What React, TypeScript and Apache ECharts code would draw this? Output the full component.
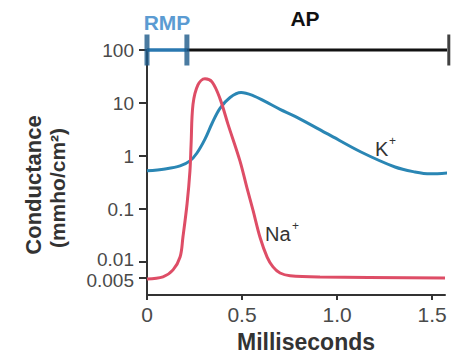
import React, { useEffect, useRef } from "react";
import * as echarts from "echarts";

// Time (ms) and conductance (mmho/cm²)
const kTime = [0, 0.095, 0.174, 0.226, 0.263, 0.305, 0.342, 0.384, 0.437, 0.495, 0.558, 0.621, 0.7, 0.779, 0.953, 1.126, 1.305, 1.41, 1.49, 1.584];
const kCond = [0.525, 0.57, 0.65, 0.81, 1.14, 2.08, 4.1, 7.9, 12.7, 15.7, 13.8, 10.7, 7.6, 5.6, 2.58, 1.19, 0.62, 0.5, 0.46, 0.48];

const naTime = [0, 0.084, 0.137, 0.174, 0.189, 0.211, 0.226, 0.232, 0.242, 0.268, 0.305, 0.342, 0.384, 0.426, 0.489, 0.526, 0.558, 0.595, 0.632, 0.663, 0.7, 0.753, 0.91, 1.568];
const naCond = [0.0048, 0.00525, 0.0071, 0.0124, 0.0293, 0.127, 0.525, 1.67, 9.4, 22, 28.7, 25, 12.1, 4.0, 0.81, 0.25, 0.094, 0.029, 0.0124, 0.0081, 0.0062, 0.0055, 0.0052, 0.005];

// Y ticks, split into three overlaid axes so the crowded bottom pair can be nudged apart
const yTicksDecades = [0.1, 1, 10, 100];
const yTicksLow = [0.005];
const yTicksMid = [0.01];
const yTickLabels: Record<string, string> = { "0.005": "0.005", "0.01": "0.01", "0.1": "0.1", "1": "1", "10": "10", "100": "100" };
const xTickLabels = ["0", "0.5", "1.0", "1.5"];

// Phase bars at the top (ms)
const rmpRange = [0, 0.21];
const apRange = [0.21, 1.588];
const barLevel = 100;

const FONT = "'Liberation Sans', Arial, Helvetica, sans-serif";
const RED = "#de4d66";
const BLUE = "#2a86b4";

const lg = (v: number) => Math.log10(v);

function yAxisFor(ticks: number[], showLine: boolean, vAlign: string, lineHeight: number) {
  const logs = ticks.map(lg);
  return {
    type: "value",
    min: 2 - 245 / 53,
    max: 2,
    position: "left",
    axisLine: { show: showLine, onZero: false, lineStyle: { color: "#333", width: 2 } },
    axisTick: { show: true, length: 8, customValues: logs, lineStyle: { color: "#333", width: 2 } },
    axisLabel: {
      customValues: logs,
      hideOverlap: false,
      fontSize: 19,
      lineHeight,
      verticalAlign: vAlign,
      fontFamily: FONT,
      color: "#4a4a4a",
      margin: 13,
      formatter: (v: number) => {
        let best = 0;
        logs.forEach((t, i) => {
          if (Math.abs(t - v) < Math.abs(logs[best] - v)) best = i;
        });
        return yTickLabels[String(ticks[best])];
      },
    },
    splitLine: { show: false },
  };
}

export default function App() {
  const ref = useRef<HTMLDivElement>(null);
  useEffect(() => {
    if (!ref.current) return;
    const chart = echarts.init(ref.current, undefined, { renderer: "svg" });
    chart.setOption({
      animation: false,
      backgroundColor: "#ffffff",
      grid: { left: 147, right: 11, top: 50, bottom: 61, containLabel: false, outerBoundsMode: "none" },
      xAxis: {
        type: "value",
        min: 0,
        max: 1.568,
        interval: 0.5,
        axisLine: { show: true, onZero: false, lineStyle: { color: "#333", width: 2 } },
        axisTick: { show: true, length: 5, lineStyle: { color: "#333", width: 2 } },
        axisLabel: {
          fontSize: 21,
          fontFamily: FONT,
          color: "#4a4a4a",
          margin: 9,
          formatter: (v: number) => {
            const i = Math.round(v / 0.5);
            return xTickLabels[i] ?? "";
          },
        },
        splitLine: { show: false },
      },
      yAxis: [
        yAxisFor(yTicksDecades, true, "middle", 19),
        yAxisFor(yTicksMid, false, "bottom", 6),
        yAxisFor(yTicksLow, false, "top", 6),
      ],
      series: [
        {
          type: "line",
          name: "K+",
          data: kTime.map((t, i) => [t, lg(kCond[i])]),
          smooth: 0.35,
          symbol: "none",
          lineStyle: { color: BLUE, width: 3 },
          clip: false,
        },
        {
          type: "line",
          name: "Na+",
          data: naTime.map((t, i) => [t, lg(naCond[i])]),
          smooth: 0.35,
          symbol: "none",
          lineStyle: { color: RED, width: 3 },
          clip: false,
        },
        {
          type: "line",
          data: rmpRange.map((t) => [t, lg(barLevel)]),
          symbol: "none",
          lineStyle: { color: "#2a78b0", width: 3.5 },
          clip: false,
        },
        {
          type: "line",
          data: apRange.map((t) => [t, lg(barLevel)]),
          symbol: "none",
          lineStyle: { color: "#111", width: 3 },
          clip: false,
        },
        {
          type: "scatter",
          data: rmpRange.map((t) => [t, lg(barLevel)]),
          symbol: "rect",
          symbolSize: [5, 31],
          itemStyle: { color: "#1d5a8a" },
          clip: false,
          z: 5,
        },
        {
          type: "scatter",
          data: [[apRange[1], lg(barLevel)]],
          symbol: "rect",
          symbolSize: [3, 31],
          itemStyle: { color: "#111" },
          clip: false,
          z: 5,
        },
      ],
      graphic: [
        { type: "text", x: 167, y: 22, style: { text: "RMP", fontSize: 21, fontWeight: "bold", fontFamily: FONT, fill: "#5b9bd2", textAlign: "center", textVerticalAlign: "middle" } },
        { type: "text", x: 305, y: 18, style: { text: "AP", fontSize: 21, fontWeight: "bold", fontFamily: FONT, fill: "#111", textAlign: "center", textVerticalAlign: "middle" } },
        { type: "text", x: 33, y: 185, rotation: Math.PI / 2, style: { text: "Conductance", fontSize: 22, fontWeight: "bold", fontFamily: FONT, fill: "#333", textAlign: "center", textVerticalAlign: "middle" } },
        { type: "text", x: 57, y: 188, rotation: Math.PI / 2, style: { text: "(mmho/cm²)", fontSize: 21, fontWeight: "bold", fontFamily: FONT, fill: "#333", textAlign: "center", textVerticalAlign: "middle" } },
        { type: "text", x: 306, y: 342, style: { text: "Milliseconds", fontSize: 23, fontWeight: "bold", fontFamily: FONT, fill: "#333", textAlign: "center", textVerticalAlign: "middle" } },
        { type: "text", x: 375, y: 149, style: { text: "K", fontSize: 20, fontFamily: FONT, fill: "#333", textAlign: "left", textVerticalAlign: "middle" } },
        { type: "text", x: 389, y: 141, style: { text: "+", fontSize: 12, fontFamily: FONT, fill: "#333", textAlign: "left", textVerticalAlign: "middle" } },
        { type: "text", x: 265, y: 234, style: { text: "Na", fontSize: 20, fontFamily: FONT, fill: "#333", textAlign: "left", textVerticalAlign: "middle" } },
        { type: "text", x: 292, y: 226, style: { text: "+", fontSize: 12, fontFamily: FONT, fill: "#333", textAlign: "left", textVerticalAlign: "middle" } },
      ],
    });
    return () => chart.dispose();
  }, []);
  return <div ref={ref} style={{ width: 456, height: 356, position: "absolute", left: 0, top: 0 }} />;
}
